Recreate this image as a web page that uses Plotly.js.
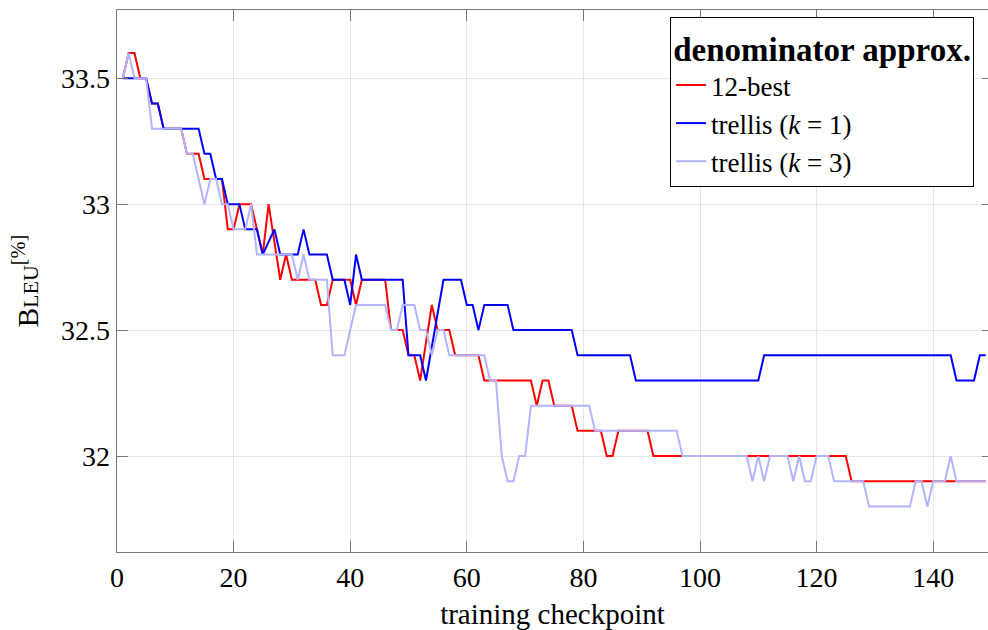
<!DOCTYPE html>
<html>
<head>
<meta charset="utf-8">
<script src="https://cdn.plot.ly/plotly-3.0.1.min.js"></script>
<style>html,body{margin:0;padding:0;background:#fff;}</style>
</head>
<body>
<div id="chart" style="width:988px;height:630px;"></div>
<script>
const checkpoints = [
  1,2,3,4,5,6,7,8,9,10,11,12,13,14,15,16,17,18,19,20,
  21,22,23,24,25,26,27,28,29,30,31,32,33,34,35,36,37,38,39,40,
  41,42,43,44,45,46,47,48,49,50,51,52,53,54,55,56,57,58,59,60,
  61,62,63,64,65,66,67,68,69,70,71,72,73,74,75,76,77,78,79,80,
  81,82,83,84,85,86,87,88,89,90,91,92,93,94,95,96,97,98,99,100,
  101,102,103,104,105,106,107,108,109,110,111,112,113,114,115,116,117,118,119,120,
  121,122,123,124,125,126,127,128,129,130,131,132,133,134,135,136,137,138,139,140,
  141,142,143,144,145,146,147,148,149
];

const best12 = [
  33.5,33.6,33.6,33.5,33.5, 33.4,33.4,33.3,33.3,33.3,
  33.3,33.2,33.2,33.2,33.1, 33.1,33.1,33.1,32.9,32.9,
  33.0,33.0,33.0,32.9,32.8, 33.0,32.85,32.7,32.8,32.7,
  32.7,32.7,32.7,32.7,32.6, 32.6,32.7,32.7,32.7,32.7,
  32.6,32.7,32.7,32.7,32.7, 32.7,32.5,32.5,32.5,32.4,
  32.4,32.3,32.45,32.6,32.5, 32.5,32.5,32.4,32.4,32.4,
  32.4,32.4,32.3,32.3,32.3, 32.3,32.3,32.3,32.3,32.3,
  32.3,32.2,32.3,32.3,32.2, 32.2,32.2,32.2,32.1,32.1,
  32.1,32.1,32.1,32.0,32.0, 32.1,32.1,32.1,32.1,32.1,
  32.1,32.0,32.0,32.0,32.0, 32.0,32.0,32.0,32.0,32.0,
  32.0,32.0,32.0,32.0,32.0, 32.0,32.0,32.0,32.0,32.0,
  32.0,32.0,32.0,32.0,32.0, 32.0,32.0,32.0,32.0,32.0,
  32.0,32.0,32.0,32.0,32.0, 31.9,31.9,31.9,31.9,31.9,
  31.9,31.9,31.9,31.9,31.9, 31.9,31.9,31.9,31.9,31.9,
  31.9,31.9,31.9,31.9,31.9, 31.9,31.9,31.9,31.9
];

const trellisK1 = [
  33.5,33.5,33.5,33.5,33.5, 33.4,33.4,33.3,33.3,33.3,
  33.3,33.3,33.3,33.3,33.2, 33.2,33.1,33.1,33.0,33.0,
  33.0,32.9,32.9,32.9,32.8, 32.85,32.9,32.8,32.8,32.8,
  32.8,32.9,32.8,32.8,32.8, 32.8,32.7,32.7,32.7,32.6,
  32.8,32.7,32.7,32.7,32.7, 32.7,32.7,32.7,32.7,32.4,
  32.4,32.4,32.3,32.43,32.57, 32.7,32.7,32.7,32.7,32.6,
  32.6,32.5,32.6,32.6,32.6, 32.6,32.6,32.5,32.5,32.5,
  32.5,32.5,32.5,32.5,32.5, 32.5,32.5,32.5,32.4,32.4,
  32.4,32.4,32.4,32.4,32.4, 32.4,32.4,32.4,32.3,32.3,
  32.3,32.3,32.3,32.3,32.3, 32.3,32.3,32.3,32.3,32.3,
  32.3,32.3,32.3,32.3,32.3, 32.3,32.3,32.3,32.3,32.3,
  32.4,32.4,32.4,32.4,32.4, 32.4,32.4,32.4,32.4,32.4,
  32.4,32.4,32.4,32.4,32.4, 32.4,32.4,32.4,32.4,32.4,
  32.4,32.4,32.4,32.4,32.4, 32.4,32.4,32.4,32.4,32.4,
  32.4,32.4,32.4,32.3,32.3, 32.3,32.3,32.4,32.4
];

const trellisK3 = [
  33.5,33.6,33.5,33.5,33.5, 33.3,33.3,33.3,33.3,33.3,
  33.3,33.2,33.2,33.1,33.0, 33.1,33.1,33.0,33.0,32.9,
  32.9,32.9,33.0,32.8,32.8, 32.8,32.8,32.8,32.8,32.8,
  32.7,32.8,32.7,32.7,32.7, 32.7,32.4,32.4,32.4,32.5,
  32.6,32.6,32.6,32.6,32.6, 32.6,32.5,32.5,32.6,32.6,
  32.6,32.5,32.5,32.4,32.5, 32.5,32.4,32.4,32.4,32.4,
  32.4,32.4,32.4,32.3,32.3, 32.0,31.9,31.9,32.0,32.0,
  32.2,32.2,32.2,32.2,32.2, 32.2,32.2,32.2,32.2,32.2,
  32.2,32.1,32.1,32.1,32.1, 32.1,32.1,32.1,32.1,32.1,
  32.1,32.1,32.1,32.1,32.1, 32.1,32.0,32.0,32.0,32.0,
  32.0,32.0,32.0,32.0,32.0, 32.0,32.0,32.0,31.9,32.0,
  31.9,32.0,32.0,32.0,32.0, 31.9,32.0,31.9,31.9,32.0,
  32.0,32.0,31.9,31.9,31.9, 31.9,31.9,31.9,31.8,31.8,
  31.8,31.8,31.8,31.8,31.8, 31.8,31.9,31.9,31.8,31.9,
  31.9,31.9,32.0,31.9,31.9, 31.9,31.9,31.9,31.9
];

const seriesNames = ['12-best', 'trellis (<i>k</i> = 1)', 'trellis (<i>k</i> = 3)'];
const seriesColors = ['#ff0000', '#0000ff', '#b3b3ff'];
const yTickVals = [32, 32.5, 33, 33.5];
const yTickText = ['32', '32.5', '33', '33.5'];
const xTickVals = [0, 20, 40, 60, 80, 100, 120, 140];

const FONT = "'Liberation Serif', 'DejaVu Serif', serif";
const seriesData = [best12, trellisK1, trellisK3];

const traces = seriesData.map((vals, k) => ({
  type: 'scatter', mode: 'lines',
  x: checkpoints, y: vals,
  name: seriesNames[k],
  line: {color: seriesColors[k], width: 2},
  hoverinfo: 'skip'
}));
// empty trace that hosts the mirrored right-hand tick axis
traces.push({type: 'scatter', mode: 'lines', x: [], y: [], yaxis: 'y2', showlegend: false, hoverinfo: 'skip'});

const yRange = [31.619, 33.771];

const layout = {
  width: 988, height: 630,
  margin: {l: 117, r: 0, t: 10, b: 78, pad: 0},
  paper_bgcolor: '#ffffff', plot_bgcolor: '#ffffff',
  font: {family: FONT, size: 28, color: '#000'},
  showlegend: true,
  xaxis: {
    range: [0, 149.4], tickvals: xTickVals, ticktext: xTickVals.map(String),
    ticks: 'inside', ticklen: 11, tickcolor: '#777', tickwidth: 1,
    showline: true, linecolor: '#777', linewidth: 1.3, mirror: 'ticks',
    showgrid: true, gridcolor: '#e5e5e5', gridwidth: 1, zeroline: false,
    tickfont: {family: FONT, size: 28, color: '#000'},
    title: {text: 'training checkpoint', font: {family: FONT, size: 29, color: '#000'}, standoff: 12}
  },
  yaxis: {
    range: yRange, tickvals: yTickVals, ticktext: yTickText,
    ticks: 'inside', ticklen: 11, tickcolor: '#777', tickwidth: 1,
    showline: true, linecolor: '#777', linewidth: 1.3, mirror: false,
    showgrid: true, gridcolor: '#e5e5e5', gridwidth: 1, zeroline: false,
    tickfont: {family: FONT, size: 28, color: '#000'},
    title: {text: 'B<span style="font-size:22px">LEU</span><sup>[%]</sup>', font: {family: FONT, size: 29, color: '#000'}, standoff: 14}
  },
  yaxis2: {
    overlaying: 'y', side: 'right', anchor: 'x',
    range: yRange, tickvals: yTickVals, showticklabels: false,
    ticks: 'inside', ticklen: 6, tickcolor: '#777', tickwidth: 1,
    showline: false, showgrid: false, zeroline: false
  },
  legend: {
    x: 0.984, xanchor: 'right', y: 0.987, yanchor: 'top',
    bgcolor: '#ffffff', bordercolor: '#000000', borderwidth: 1,
    font: {family: FONT, size: 27, color: '#000'},
    title: {text: '<b>denominator approx.</b>', side: 'top center', font: {family: FONT, size: 33, color: '#000'}},
    itemwidth: 30, tracegroupgap: 0
  }
};

Plotly.newPlot('chart', traces, layout, {staticPlot: true, displayModeBar: false});
</script>
</body>
</html>
